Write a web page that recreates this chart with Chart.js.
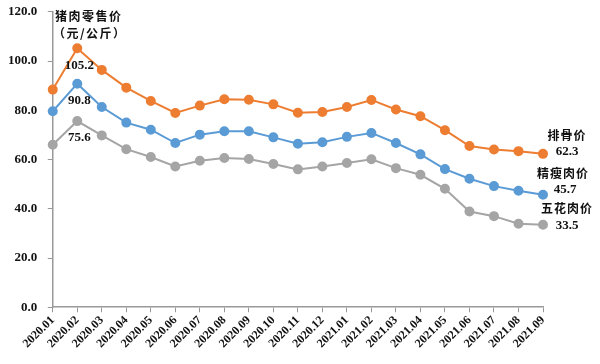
<!DOCTYPE html>
<html>
<head>
<meta charset="utf-8">
<script src="https://cdn.jsdelivr.net/npm/chart.js@4/dist/chart.umd.min.js"></script>
<style>
  html, body { margin: 0; padding: 0; background: #fff; }
  #wrap { width: 600px; height: 364px; }
</style>
</head>
<body>
<div id="wrap"><canvas id="porkChart" width="600" height="364"></canvas></div>
<script>
// months on the x axis
const months = [
  "2020.01", "2020.02", "2020.03", "2020.04", "2020.05", "2020.06", "2020.07",
  "2020.08", "2020.09", "2020.10", "2020.11", "2020.12", "2021.01", "2021.02",
  "2021.03", "2021.04", "2021.05", "2021.06", "2021.07", "2021.08", "2021.09"
];

// 排骨价
const ribPrice = [88.4, 105.2, 96.4, 89.2, 83.8, 78.9, 81.9, 84.5, 84.3, 82.4, 79.0,
  79.3, 81.3, 84.2, 80.3, 77.6, 71.9, 65.5, 64.1, 63.4, 62.3];
// 精瘦肉价
const leanPrice = [79.6, 90.8, 81.3, 75.0, 72.1, 66.7, 70.1, 71.5, 71.5, 69.0, 66.4,
  67.0, 69.2, 70.8, 66.7, 62.1, 56.1, 52.2, 49.2, 47.3, 45.7];
// 五花肉价
const bellyPrice = [66.0, 75.6, 69.8, 64.2, 61.0, 57.2, 59.5, 60.6, 60.2, 58.2, 56.0,
  57.2, 58.6, 60.1, 56.5, 53.8, 48.1, 38.9, 37.0, 33.9, 33.5];

const seriesNames = ["排骨价", "精瘦肉价", "五花肉价"];
const yTicks = [0, 20, 40, 60, 80, 100, 120];

const serif = "'Liberation Serif', 'Times New Roman', serif";
const cjk = "'Noto Sans CJK SC', 'Noto Sans', sans-serif";

// text labels drawn next to points
const labelPlugin = {
  id: "labels",
  afterDatasetsDraw(chart) {
    const ctx = chart.ctx;
    const area = chart.chartArea;
    ctx.save();
    ctx.fillStyle = "#111";
    ctx.textAlign = "center";
    ctx.textBaseline = "middle";

    // peak values under the 2020.02 points
    ctx.font = "bold 13px " + serif;
    chart.data.datasets.forEach((ds, i) => {
      const pt = chart.getDatasetMeta(i).data[1];
      ctx.fillText(ds.data[1].toFixed(1), pt.x + 2, pt.y + 17);
    });

    // end labels: series name + last value
    const offs = [[24, -18, 24, -2], [20, -21, 22, -5], [24, -16, 24, 1]];
    chart.data.datasets.forEach((ds, i) => {
      const meta = chart.getDatasetMeta(i);
      const pt = meta.data[meta.data.length - 1];
      const o = offs[i];
      ctx.font = "bold 12px " + cjk;
      ctx.letterSpacing = "1px";
      ctx.fillText(seriesNames[i], pt.x + o[0], pt.y + o[1]);
      ctx.letterSpacing = "0px";
      ctx.font = "bold 13px " + serif;
      ctx.fillText(ds.data[ds.data.length - 1].toFixed(1), pt.x + o[2], pt.y + o[3]);
    });

    // unit title
    ctx.font = "bold 12px " + cjk;
    ctx.letterSpacing = "1.5px";
    ctx.fillText("猪肉零售价", area.left + 36, 16);
    ctx.fillText("（元/公斤）", area.left + 37, 33);
    ctx.restore();
  }
};

function makeSet(label, data, color) {
  return {
    label: label,
    data: data,
    borderColor: color,
    backgroundColor: color,
    borderWidth: 2,
    pointRadius: 4,
    pointHoverRadius: 4,
    tension: 0
  };
}

new Chart(document.getElementById("porkChart"), {
  type: "line",
  data: {
    labels: months,
    datasets: [
      makeSet(seriesNames[0], ribPrice, "#ED7D31"),
      makeSet(seriesNames[1], leanPrice, "#5B9BD5"),
      makeSet(seriesNames[2], bellyPrice, "#A5A5A5")
    ]
  },
  options: {
    responsive: false,
    animation: false,
    layout: { padding: { left: 4, right: 57, top: 10, bottom: 12 } },
    plugins: {
      legend: { display: false },
      tooltip: { enabled: false }
    },
    scales: {
      x: {
        offset: false,
        grid: { drawOnChartArea: false, drawTicks: true, tickLength: 5, color: "#999" },
        border: { color: "#999", width: 1.5 },
        ticks: {
          autoSkip: false,
          maxRotation: 45,
          minRotation: 45,
          color: "#111",
          padding: 1,
          font: { family: serif, weight: "bold", size: 12 }
        }
      },
      y: {
        min: 0,
        max: 120,
        afterBuildTicks(axis) {
          axis.ticks = yTicks.map((v) => ({ value: v }));
        },
        grid: { drawOnChartArea: false, drawTicks: true, tickLength: 5, color: "#999" },
        border: { color: "#999", width: 1.5 },
        ticks: {
          color: "#111",
          padding: 4,
          font: { family: serif, weight: "bold", size: 13 },
          // trailing spaces keep the labels a bit away from the axis
          callback: (v) => Number(v).toFixed(1) + "  "
        }
      }
    }
  },
  plugins: [labelPlugin]
});
</script>
</body>
</html>
